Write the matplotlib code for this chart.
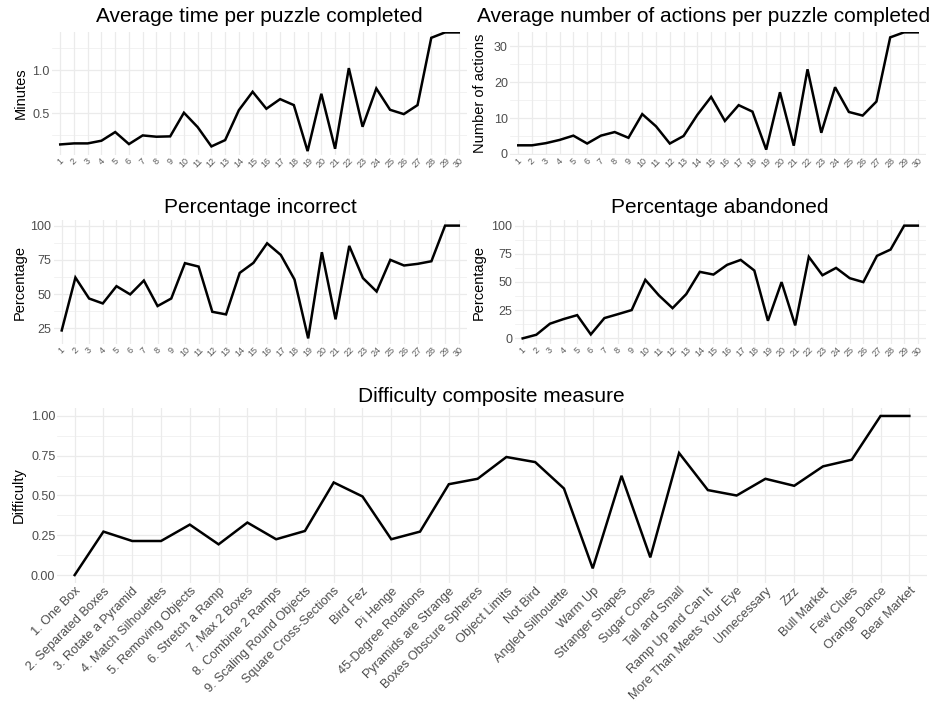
import matplotlib
matplotlib.use("Agg")
import matplotlib.pyplot as plt
from matplotlib.ticker import MultipleLocator

plt.rcParams['font.family'] = ['Liberation Sans', 'DejaVu Sans']

# ---- data -------------------------------------------------------------
puzzle_ids = list(range(1, 31))

puzzle_names = [
    "1. One Box", "2. Separated Boxes", "3. Rotate a Pyramid",
    "4. Match Silhouettes", "5. Removing Objects", "6. Stretch a Ramp",
    "7. Max 2 Boxes", "8. Combine 2 Ramps", "9. Scaling Round Objects",
    "Square Cross-Sections", "Bird Fez", "Pi Henge", "45-Degree Rotations",
    "Pyramids are Strange", "Boxes Obscure Spheres", "Object Limits",
    "Not Bird", "Angled Silhouette", "Warm Up", "Stranger Shapes",
    "Sugar Cones", "Tall and Small", "Ramp Up and Can It",
    "More Than Meets Your Eye", "Unnecessary", "Zzz", "Bull Market",
    "Few Clues", "Orange Dance", "Bear Market",
]

avg_time_min = [0.142, 0.154, 0.154, 0.185, 0.285, 0.146, 0.246, 0.231, 0.235, 0.508,
                0.342, 0.119, 0.192, 0.538, 0.750, 0.554, 0.665, 0.596, 0.065, 0.727,
                0.092, 1.023, 0.346, 0.788, 0.542, 0.492, 0.596, 1.373, 1.435, 1.435]

avg_actions = [2.4, 2.4, 3.0, 3.9, 5.1, 2.9, 5.1, 6.1, 4.5, 11.1,
               7.7, 2.9, 5.0, 10.9, 15.9, 9.2, 13.6, 11.8, 1.2, 17.2,
               2.3, 23.6, 5.9, 18.6, 11.7, 10.7, 14.6, 32.5, 33.9, 33.9]

pct_incorrect = [23.5, 62.1, 46.8, 43.2, 55.8, 49.8, 59.9, 41.3, 46.8, 72.6,
                 70.1, 37.1, 35.2, 65.5, 72.8, 87.1, 78.6, 60.7, 17.7, 80.6,
                 31.6, 85.2, 61.7, 51.9, 75.0, 70.9, 72.1, 74.0, 100.0, 100.0]

pct_abandoned = [0.0, 3.2, 13.0, 17.1, 20.6, 3.5, 18.0, 21.5, 25.1, 51.9,
                 38.1, 26.8, 39.2, 59.0, 56.6, 65.2, 69.6, 60.2, 15.6, 49.9,
                 11.5, 72.3, 56.0, 62.5, 53.4, 49.9, 73.2, 78.8, 100.0, 100.0]

difficulty = [0.000, 0.273, 0.214, 0.214, 0.317, 0.193, 0.330, 0.225, 0.277, 0.582,
              0.494, 0.225, 0.273, 0.571, 0.605, 0.742, 0.710, 0.544, 0.042, 0.624,
              0.111, 0.767, 0.534, 0.500, 0.605, 0.561, 0.683, 0.725, 1.000, 1.000]

# ---- layout helpers ---------------------------------------------------
W, H = 933, 706
fig = plt.figure(figsize=(W / 100, H / 100), dpi=100)
fig.patch.set_facecolor("white")

GRID = "#EBEBEB"
TICK_COLOR = "#4D4D4D"
LINE_W = 1.8


def panel(x0, y0, x1, y1):
    ax = fig.add_axes([x0 / W, 1 - y1 / H, (x1 - x0) / W, (y1 - y0) / H])
    for s in ax.spines.values():
        s.set_visible(False)
    ax.set_facecolor("white")
    ax.tick_params(length=0, colors=TICK_COLOR, labelsize=9)
    ax.tick_params(axis="y", pad=1.5)
    ax.grid(True, which="major", color=GRID, linewidth=0.9)
    ax.grid(True, which="minor", axis="y", color=GRID, linewidth=0.45)
    ax.set_axisbelow(True)
    return ax


def title_at(cx, baseline, text, size=15):
    fig.text(cx / W, 1 - baseline / H, text, ha="center", va="baseline",
             fontsize=size, color="black")


def ylabel_at(cx, cy, text):
    fig.text(cx / W, 1 - cy / H, text, ha="center", va="center",
             rotation=90, fontsize=10.5, color="black")


def small_panel(ax, values, ymin, ymax, major, minor, fmt):
    ax.plot(puzzle_ids, values, color="black", linewidth=LINE_W,
            solid_joinstyle="miter", clip_on=True)
    ax.set_xlim(0.4, 30.6)
    ax.set_ylim(ymin, ymax)
    ax.set_xticks(puzzle_ids)
    ax.set_xticklabels([str(i) for i in puzzle_ids], rotation=45,
                       ha="center", va="top", fontsize=6.5, color="#5A5A5A")
    ax.tick_params(axis="x", pad=1)
    ax.yaxis.set_major_locator(MultipleLocator(major))
    ax.yaxis.set_minor_locator(MultipleLocator(minor))
    ax.yaxis.set_major_formatter(plt.FuncFormatter(lambda v, p: fmt.format(v)))
    ax.tick_params(axis="y", which="minor", length=0)


# ---- top row ----------------------------------------------------------
ax1 = panel(52, 32, 467, 155)
small_panel(ax1, avg_time_min, 0.02, 1.44, 0.5, 0.25, "{:.1f}")
title_at(259.5, 22, "Average time per puzzle completed")
ylabel_at(21, 93.5, "Minutes")

ax2 = panel(510, 32, 926, 155)
small_panel(ax2, avg_actions, -0.3, 34.0, 10, 5, "{:.0f}")
title_at(704, 22, "Average number of actions per puzzle completed")
ylabel_at(480, 93.5, "Number of actions")

# ---- middle row -------------------------------------------------------
ax3 = panel(53.5, 220, 467, 344)
small_panel(ax3, pct_incorrect, 13.6, 104.1, 25, 12.5, "{:.0f}")
title_at(260.5, 213, "Percentage incorrect")
ylabel_at(19.5, 282, "Percentage")

ax4 = panel(514.5, 220, 926, 344)
small_panel(ax4, pct_abandoned, -5, 105, 25, 12.5, "{:.0f}")
title_at(720, 213, "Percentage abandoned")
ylabel_at(479, 282, "Percentage")

# ---- bottom composite panel -------------------------------------------
ax5 = panel(57.4, 408, 926.6, 583)
ax5.plot(puzzle_names, difficulty, color="black", linewidth=LINE_W,
         solid_joinstyle="miter")
ax5.set_xlim(-0.6, 29.6)
ax5.set_ylim(-0.05, 1.05)
ax5.yaxis.set_major_locator(MultipleLocator(0.25))
ax5.yaxis.set_minor_locator(MultipleLocator(0.125))
ax5.yaxis.set_major_formatter(plt.FuncFormatter(lambda v, p: f"{v:.2f}"))
ax5.tick_params(axis="y", which="minor", length=0)
ax5.tick_params(axis="x", pad=1.5)
for lbl in ax5.get_xticklabels():
    lbl.set_rotation(45)
    lbl.set_rotation_mode("anchor")
    lbl.set_ha("right")
    lbl.set_va("top")
    lbl.set_fontsize(9.2)
title_at(491.5, 401.5, "Difficulty composite measure")
ylabel_at(19, 495.5, "Difficulty")

fig.savefig("out.png", dpi=100, facecolor="white")
